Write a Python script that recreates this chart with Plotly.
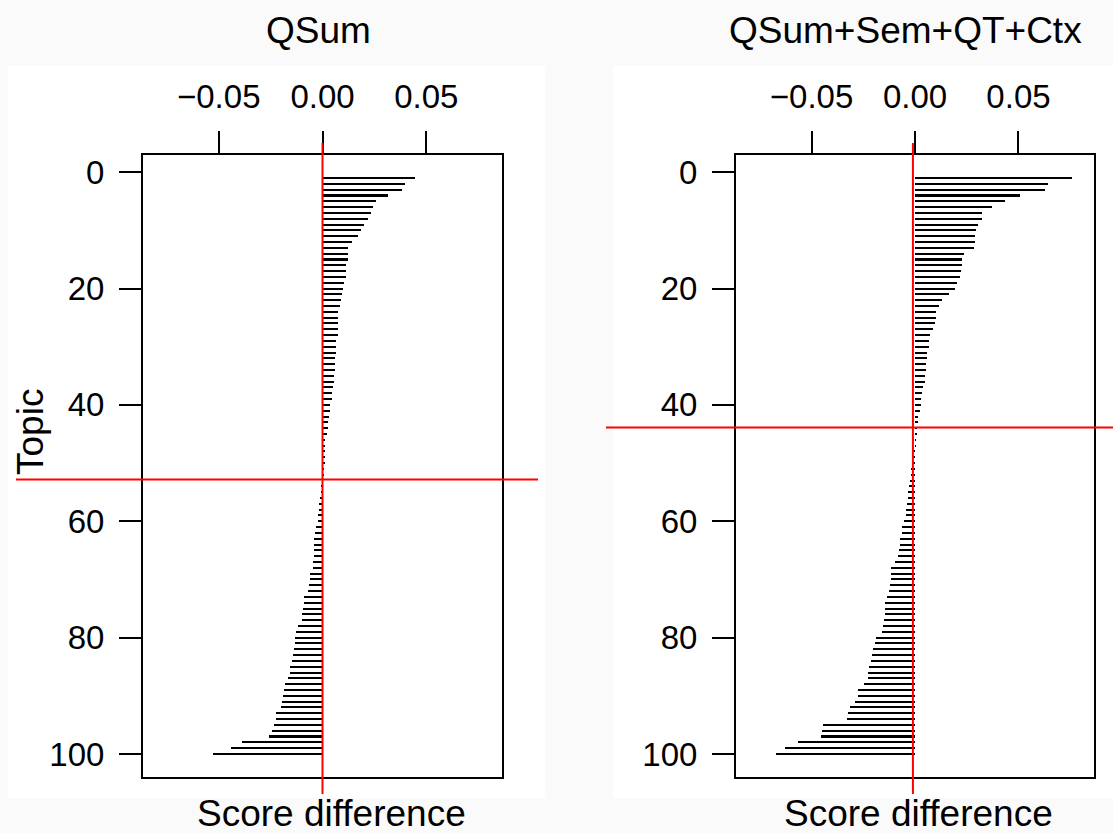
import plotly.graph_objects as go

topics = list(range(1, 101))

qsum = [0.0444, 0.0396, 0.0383, 0.0317, 0.0256, 0.0244, 0.0232, 0.0221, 0.0202, 0.0186,
        0.0170, 0.0144, 0.0123, 0.0122, 0.0122, 0.0115, 0.0115, 0.0112, 0.0104, 0.0098,
        0.0093, 0.0087, 0.0085, 0.0077, 0.0077, 0.0077, 0.0075, 0.0074, 0.0067, 0.0066,
        0.0064, 0.0061, 0.0061, 0.0061, 0.0054, 0.0053, 0.0051, 0.0048, 0.0045, 0.0037,
        0.0034, 0.0030, 0.0026, 0.0026, 0.0022, 0.0014, 0.0014, 0.0013, 0.0011, 0.0011,
        0.0006, 0.0004, -0.0002, -0.0005, -0.0008, -0.0013, -0.0016, -0.0019, -0.0021, -0.0024,
        -0.0030, -0.0034, -0.0040, -0.0040, -0.0040, -0.0042, -0.0048, -0.0048, -0.0059, -0.0059,
        -0.0067, -0.0072, -0.0087, -0.0090, -0.0095, -0.0099, -0.0101, -0.0119, -0.0130, -0.0131,
        -0.0131, -0.0135, -0.0141, -0.0149, -0.0157, -0.0159, -0.0167, -0.0181, -0.0186, -0.0188,
        -0.0196, -0.0200, -0.0224, -0.0226, -0.0236, -0.0242, -0.0260, -0.0388, -0.0441, -0.0526]

full = [0.0758, 0.0645, 0.0629, 0.0508, 0.0437, 0.0374, 0.0326, 0.0326, 0.0303, 0.0297,
        0.0292, 0.0292, 0.0284, 0.0237, 0.0227, 0.0227, 0.0224, 0.0219, 0.0202, 0.0194,
        0.0166, 0.0131, 0.0118, 0.0103, 0.0102, 0.0098, 0.0087, 0.0073, 0.0069, 0.0069,
        0.0060, 0.0058, 0.0053, 0.0052, 0.0048, 0.0048, 0.0037, 0.0032, 0.0031, 0.0027,
        0.0023, 0.0015, 0.0015, 0.0008, 0.0005, 0.0003, 0.0003, -0.0008, -0.0012, -0.0016,
        -0.0018, -0.0021, -0.0024, -0.0027, -0.0032, -0.0035, -0.0040, -0.0044, -0.0045, -0.0055,
        -0.0061, -0.0063, -0.0071, -0.0073, -0.0077, -0.0081, -0.0095, -0.0116, -0.0118, -0.0118,
        -0.0123, -0.0124, -0.0135, -0.0144, -0.0145, -0.0147, -0.0148, -0.0155, -0.0161, -0.0190,
        -0.0192, -0.0202, -0.0206, -0.0211, -0.0221, -0.0226, -0.0226, -0.0247, -0.0274, -0.0277,
        -0.0290, -0.0316, -0.0324, -0.0327, -0.0445, -0.0450, -0.0453, -0.0563, -0.0629, -0.0673]

panel_titles = ["QSum", "QSum+Sem+QT+Ctx"]
x_tickvals = [-0.05, 0.0, 0.05]
x_ticktext = ["\u22120.05", "0.00", "0.05"]
y_tickvals = [0, 20, 40, 60, 80, 100]
vline_x = [0.0, -0.001]
hline_y = [52.8, 43.9]

W, H = 1113, 833
FONT = "Liberation Sans, Arial, sans-serif"

fig = go.Figure()
fig.add_trace(go.Bar(x=qsum, y=topics, orientation="h", width=0.35,
                     marker=dict(color="black", line=dict(width=0)),
                     xaxis="x", yaxis="y", showlegend=False))
fig.add_trace(go.Bar(x=full, y=topics, orientation="h", width=0.35,
                     marker=dict(color="black", line=dict(width=0)),
                     xaxis="x2", yaxis="y2", showlegend=False))

xr = [-0.0865, 0.0865]
yr = [103.96, -2.96]
ydom = [1 - 777 / H, 1 - 155 / H]
xdoms = [[143 / W, 502 / W], [736 / W, 1094 / W]]

common_x = dict(range=xr, side="top", tickvals=x_tickvals, ticktext=x_ticktext,
                ticks="outside", ticklen=22, tickwidth=2, tickcolor="black",
                ticklabelstandoff=10,
                showline=True, linewidth=2, linecolor="black", mirror=True,
                showgrid=False, zeroline=False, fixedrange=True,
                tickfont=dict(family=FONT, size=33, color="black"))
common_y = dict(range=yr, tickvals=y_tickvals, domain=ydom,
                ticks="outside", ticklen=22, tickwidth=2, tickcolor="black",
                ticklabelstandoff=8,
                showline=True, linewidth=2, linecolor="black", mirror=True,
                showgrid=False, zeroline=False, fixedrange=True,
                tickfont=dict(family=FONT, size=33, color="black"))

fig.update_layout(
    width=W, height=H, margin=dict(l=0, r=0, t=0, b=0),
    paper_bgcolor="#fafafa", plot_bgcolor="white",
    bargap=0,
    xaxis=dict(domain=xdoms[0], anchor="y", **common_x),
    yaxis=dict(anchor="x", **common_y),
    xaxis2=dict(domain=xdoms[1], anchor="y2", **common_x),
    yaxis2=dict(anchor="x2", **common_y),
)

# white panel backgrounds
fig.add_shape(type="rect", xref="paper", yref="paper", x0=8 / W, x1=545 / W,
              y0=1 - 798 / H, y1=1 - 66 / H, fillcolor="white", line_width=0, layer="below")
fig.add_shape(type="rect", xref="paper", yref="paper", x0=613 / W, x1=1.0,
              y0=1 - 798 / H, y1=1 - 66 / H, fillcolor="white", line_width=0, layer="below")

# red reference lines
hext = [[16 / W, 538 / W], [606 / W, 1.0]]
for k, (xa, ya) in enumerate([("x", "y"), ("x2", "y2")]):
    fig.add_shape(type="line", xref=xa, yref="paper", x0=vline_x[k], x1=vline_x[k],
                  y0=1 - 794 / H, y1=1 - 143 / H, line=dict(color="red", width=2), layer="above")
    fig.add_shape(type="line", xref="paper", yref=ya, x0=hext[k][0], x1=hext[k][1],
                  y0=hline_y[k], y1=hline_y[k], line=dict(color="red", width=2), layer="above")

# titles
tfont = dict(family=FONT, size=37, color="black")
fig.add_annotation(text=panel_titles[0], x=318 / W, y=1 - 30 / H, xref="paper", yref="paper",
                   showarrow=False, font=tfont, xanchor="center", yanchor="middle")
fig.add_annotation(text=panel_titles[1], x=905 / W, y=1 - 30 / H, xref="paper", yref="paper",
                   showarrow=False, font=tfont, xanchor="center", yanchor="middle")
fig.add_annotation(text="Score difference", x=331 / W, y=1 - 813 / H, xref="paper", yref="paper",
                   showarrow=False, font=tfont, xanchor="center", yanchor="middle")
fig.add_annotation(text="Score difference", x=918 / W, y=1 - 813 / H, xref="paper", yref="paper",
                   showarrow=False, font=tfont, xanchor="center", yanchor="middle")
fig.add_annotation(text="Topic", x=30 / W, y=1 - 432 / H, xref="paper", yref="paper",
                   showarrow=False, font=tfont, textangle=-90, xanchor="center", yanchor="middle")

fig.write_html("out.html", config={"displayModeBar": False},
               post_script="document.body.style.margin='0';document.body.style.overflow='hidden';")
